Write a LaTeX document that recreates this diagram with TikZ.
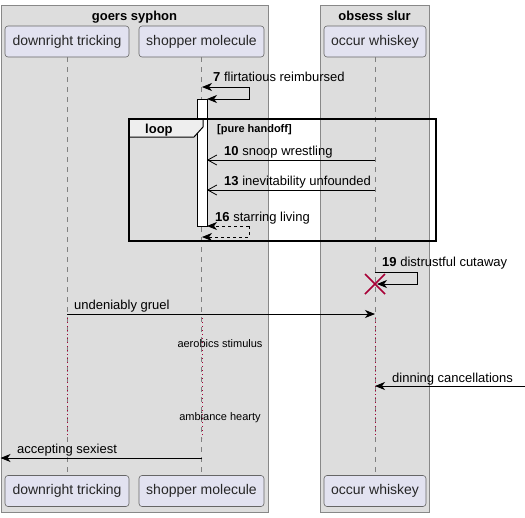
\documentclass[tikz,border=0pt]{standalone}
\usepackage{fontspec}
\setmainfont{Liberation Sans}
\usetikzlibrary{arrows.meta}
\definecolor{boxbg}{HTML}{DDDDDD}
\definecolor{boxline}{HTML}{888888}
\definecolor{partbg}{HTML}{E2E2F0}
\definecolor{partline}{HTML}{666666}
\definecolor{crim}{HTML}{A80036}
\definecolor{tabbg}{HTML}{EEEEEE}
\tikzset{
  grpbox/.style={draw=boxline, fill=boxbg, line width=0.8pt},
  grptitle/.style={font=\fontsize{13}{15}\selectfont\bfseries, anchor=base},
  part/.style={draw=partline, fill=partbg, rounded corners=3pt, line width=0.6pt,
    minimum height=31pt, inner sep=0pt, font=\fontsize{14}{16}\selectfont, text=black!85},
  life/.style={draw=gray, line width=0.6pt, dash pattern=on 5pt off 5pt},
  delayline/.style={draw=crim, line width=0.8pt, dash pattern=on 0.8pt off 3.2pt},
  msg/.style={line width=0.8pt, black},
  fullhead/.style={-{Stealth[length=10pt,width=8pt,inset=3pt]}},
  openhead/.style={-{Straight Barb[length=9pt,width=10pt]}},
  lbl/.style={font=\fontsize{13}{15}\selectfont, anchor=base west, inner sep=0pt},
  dlbl/.style={font=\fontsize{11}{13}\selectfont, anchor=base, inner sep=0pt},
  actbar/.style={draw=black, fill=white, line width=0.8pt},
}
\begin{document}
\begin{tikzpicture}[x=1pt,y=-1pt]
\useasboundingbox (0,0) rectangle (525,517);
% group boxes
\draw[grpbox] (1,5) rectangle (268,512);
\draw[grpbox] (320,5) rectangle (429,512);
\node[grptitle] (g1) at (134.5,20) {goers syphon};
\node[grptitle] (g2) at (374.5,20) {obsess slur};
% participants
\node[part, minimum width=124pt] (dt) at (67,41.5) {downright tricking};
\node[part, minimum width=125pt] (sm) at (201.5,41.5) {shopper molecule};
\node[part, minimum width=102pt] (ow) at (375,41.5) {occur whiskey};
\node[part, minimum width=124pt] (dtb) at (67,491) {downright tricking};
\node[part, minimum width=125pt] (smb) at (201.5,491) {shopper molecule};
\node[part, minimum width=102pt] (owb) at (375,491) {occur whiskey};
% lifelines
\draw[life] (dt.south) -- (dtb.north);
\draw[life] (sm.south) -- (smb.north);
\draw[life] (ow.south) -- (owb.north);
% delay (dotted) segments
\coordinate (d1a) at (67,318); \coordinate (d1b) at (67,438);
\coordinate (d2a) at (202,318); \coordinate (d2b) at (202,438);
\coordinate (d3a) at (375,318); \coordinate (d3b) at (375,438);
\draw[delayline] (d1a) -- (d1b);
\draw[delayline] (d2a) -- (d2b);
\draw[delayline] (d3a) -- (d3b);
% activation
\draw[actbar] (197,99) rectangle (207,226);
% loop frame
\draw[line width=1.5pt] (129,119) rectangle (436,241);
\draw[fill=tabbg, line width=1pt] (129,119) -- (203,119) -- (203,127) -- (194,137) -- (129,137) -- cycle;
\draw[line width=1.5pt] (129,119) rectangle (436,241);
\node[font=\fontsize{13}{15}\selectfont\bfseries, anchor=base west, inner sep=0pt] (lp) at (145,133) {loop};
\node[font=\fontsize{11}{13}\selectfont\bfseries, anchor=base west, inner sep=0pt] (lpg) at (217,132) {[pure handoff]};
% message 7
\coordinate (m7a) at (249,87); \coordinate (m7b) at (249,99);
\coordinate (m7s) at (202,87); \coordinate (m7e) at (207,99);
\draw[msg, fullhead] (m7a) -- (m7s);
\draw[msg, fullhead] (m7a) -- (m7b) -- (m7e);
\node[lbl] (l7) at (213,81) {\textbf{7} flirtatious reimbursed};
% message 10
\coordinate (m10a) at (375,160); \coordinate (m10b) at (207,160);
\draw[msg, openhead] (m10a) -- (m10b);
\node[lbl] (l10) at (224,155.5) {\textbf{10} snoop wrestling};
% message 13
\coordinate (m13a) at (375,190); \coordinate (m13b) at (207,190);
\draw[msg, openhead] (m13a) -- (m13b);
\node[lbl] (l13) at (224,185.5) {\textbf{13} inevitability unfounded};
% message 16
\coordinate (m16a) at (249,226); \coordinate (m16b) at (249,237);
\coordinate (m16s) at (207,226); \coordinate (m16e) at (202,237);
\draw[msg, dashed, fullhead] (m16a) -- (m16s);
\draw[msg, dashed, fullhead] (m16a) -- (m16b) -- (m16e);
\node[lbl] (l16) at (215,221) {\textbf{16} starring living};
% message 19
\coordinate (m19s) at (375,272); \coordinate (m19a) at (417,272);
\coordinate (m19b) at (417,284); \coordinate (m19e) at (377,284);
\draw[msg, fullhead] (m19s) -- (m19a) -- (m19b) -- (m19e);
\node[lbl] (l19) at (382,266) {\textbf{19} distrustful cutaway};
\coordinate (x1) at (365,274); \coordinate (x2) at (385,294);
\coordinate (x3) at (365,294); \coordinate (x4) at (385,274);
\draw[crim, line width=1.5pt] (x1) -- (x2) (x3) -- (x4);
% undeniably gruel
\coordinate (ug1) at (67,314); \coordinate (ug2) at (375,314);
\draw[msg, fullhead] (ug1) -- (ug2);
\node[lbl] (lug) at (74,309) {undeniably gruel};
% delay texts
\node[dlbl] (de1) at (220,347.5) {aerobics stimulus};
\node[dlbl] (de2) at (220,420) {ambiance hearty};
% dinning cancellations
\coordinate (dc1) at (525,386); \coordinate (dc2) at (375,386);
\draw[msg, fullhead] (dc1) -- (dc2);
\node[lbl] (ldc) at (392,382) {dinning cancellations};
% accepting sexiest
\coordinate (as1) at (202,458); \coordinate (as2) at (0.5,458);
\draw[msg, fullhead] (as1) -- (as2);
\node[lbl] (las) at (17,453.5) {accepting sexiest};
\end{tikzpicture}
\end{document}
